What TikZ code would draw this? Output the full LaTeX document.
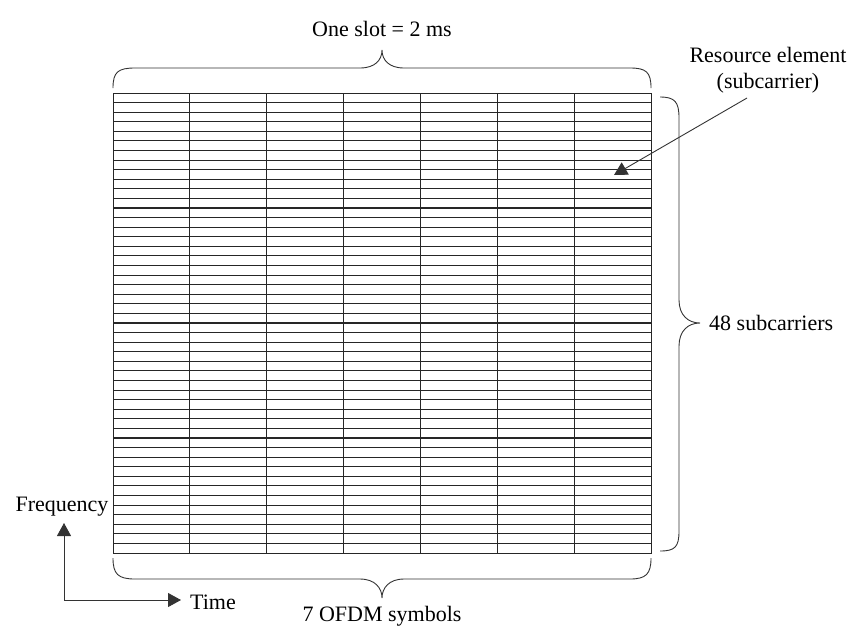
\documentclass[tikz,border=0pt]{standalone}
\usepackage{fontspec}
\setmainfont{Liberation Serif}
\usetikzlibrary{arrows.meta}
\begin{document}
\begin{tikzpicture}[x=1pt,y=-1pt,
  lbl/.style={inner sep=0pt,font=\fontsize{22}{26}\selectfont},
  gridline/.style={line width=1.1pt,draw=black!85},
  bracel/.style={line width=0.9pt,draw=black!80},
  tri/.style={-{Triangle[length=13pt,width=14pt]},line width=0.9pt,draw=black!80}]
\useasboundingbox (0,0) rectangle (864,638);
% grid
\node[draw=black!85,line width=1.1pt,minimum width=538pt,minimum height=460pt,inner sep=0pt,anchor=north west] (grid) at (113,93) {};
\foreach \i in {1,...,47} \draw[gridline] (113,93+\i*9.5833) -- (651,93+\i*9.5833);
\foreach \j in {1,...,6} \draw[gridline] (113+\j*76.857,93) -- (113+\j*76.857,553);
% labels
\node[lbl] (slot) at (382,29) {One slot = 2 ms};
\node[lbl,align=center] (re) at (768,70) {Resource element\\(subcarrier)};
\node[lbl,anchor=west] (sub) at (709,323) {48 subcarriers};
\node[lbl] (ofdm) at (382,616) {7 OFDM symbols};
\node[lbl] (freq) at (62,507) {Frequency};
\node[lbl,anchor=west] (time) at (190,602) {Time};
% braces
\draw[bracel] (113,88) .. controls (113,72) and (118,68) .. (135,68) -- (360,68)
  .. controls (375,68) and (382,60) .. (382,50) .. controls (382,60) and (389,68) .. (404,68)
  -- (630,68) .. controls (646,68) and (651,72) .. (651,88);
\draw[bracel] (660,97) .. controls (675,97) and (679,102) .. (679,118) -- (679,300)
  .. controls (679,315) and (688,323) .. (700,323) .. controls (688,323) and (679,331) .. (679,346)
  -- (679,531) .. controls (679,547) and (675,551) .. (660,551);
\draw[bracel] (113,558) .. controls (113,574) and (118,579) .. (135,579) -- (360,579)
  .. controls (375,579) and (382,588) .. (382,598) .. controls (382,588) and (389,579) .. (404,579)
  -- (630,579) .. controls (646,579) and (651,574) .. (651,558);
% arrows
\coordinate (o) at (64,600);
\coordinate (cell) at (614,175);
\draw[tri] (o) -- (64,523);
\draw[tri] (o) -- (181,600);
\draw[tri] (747,98) -- (cell);
\end{tikzpicture}
\end{document}
